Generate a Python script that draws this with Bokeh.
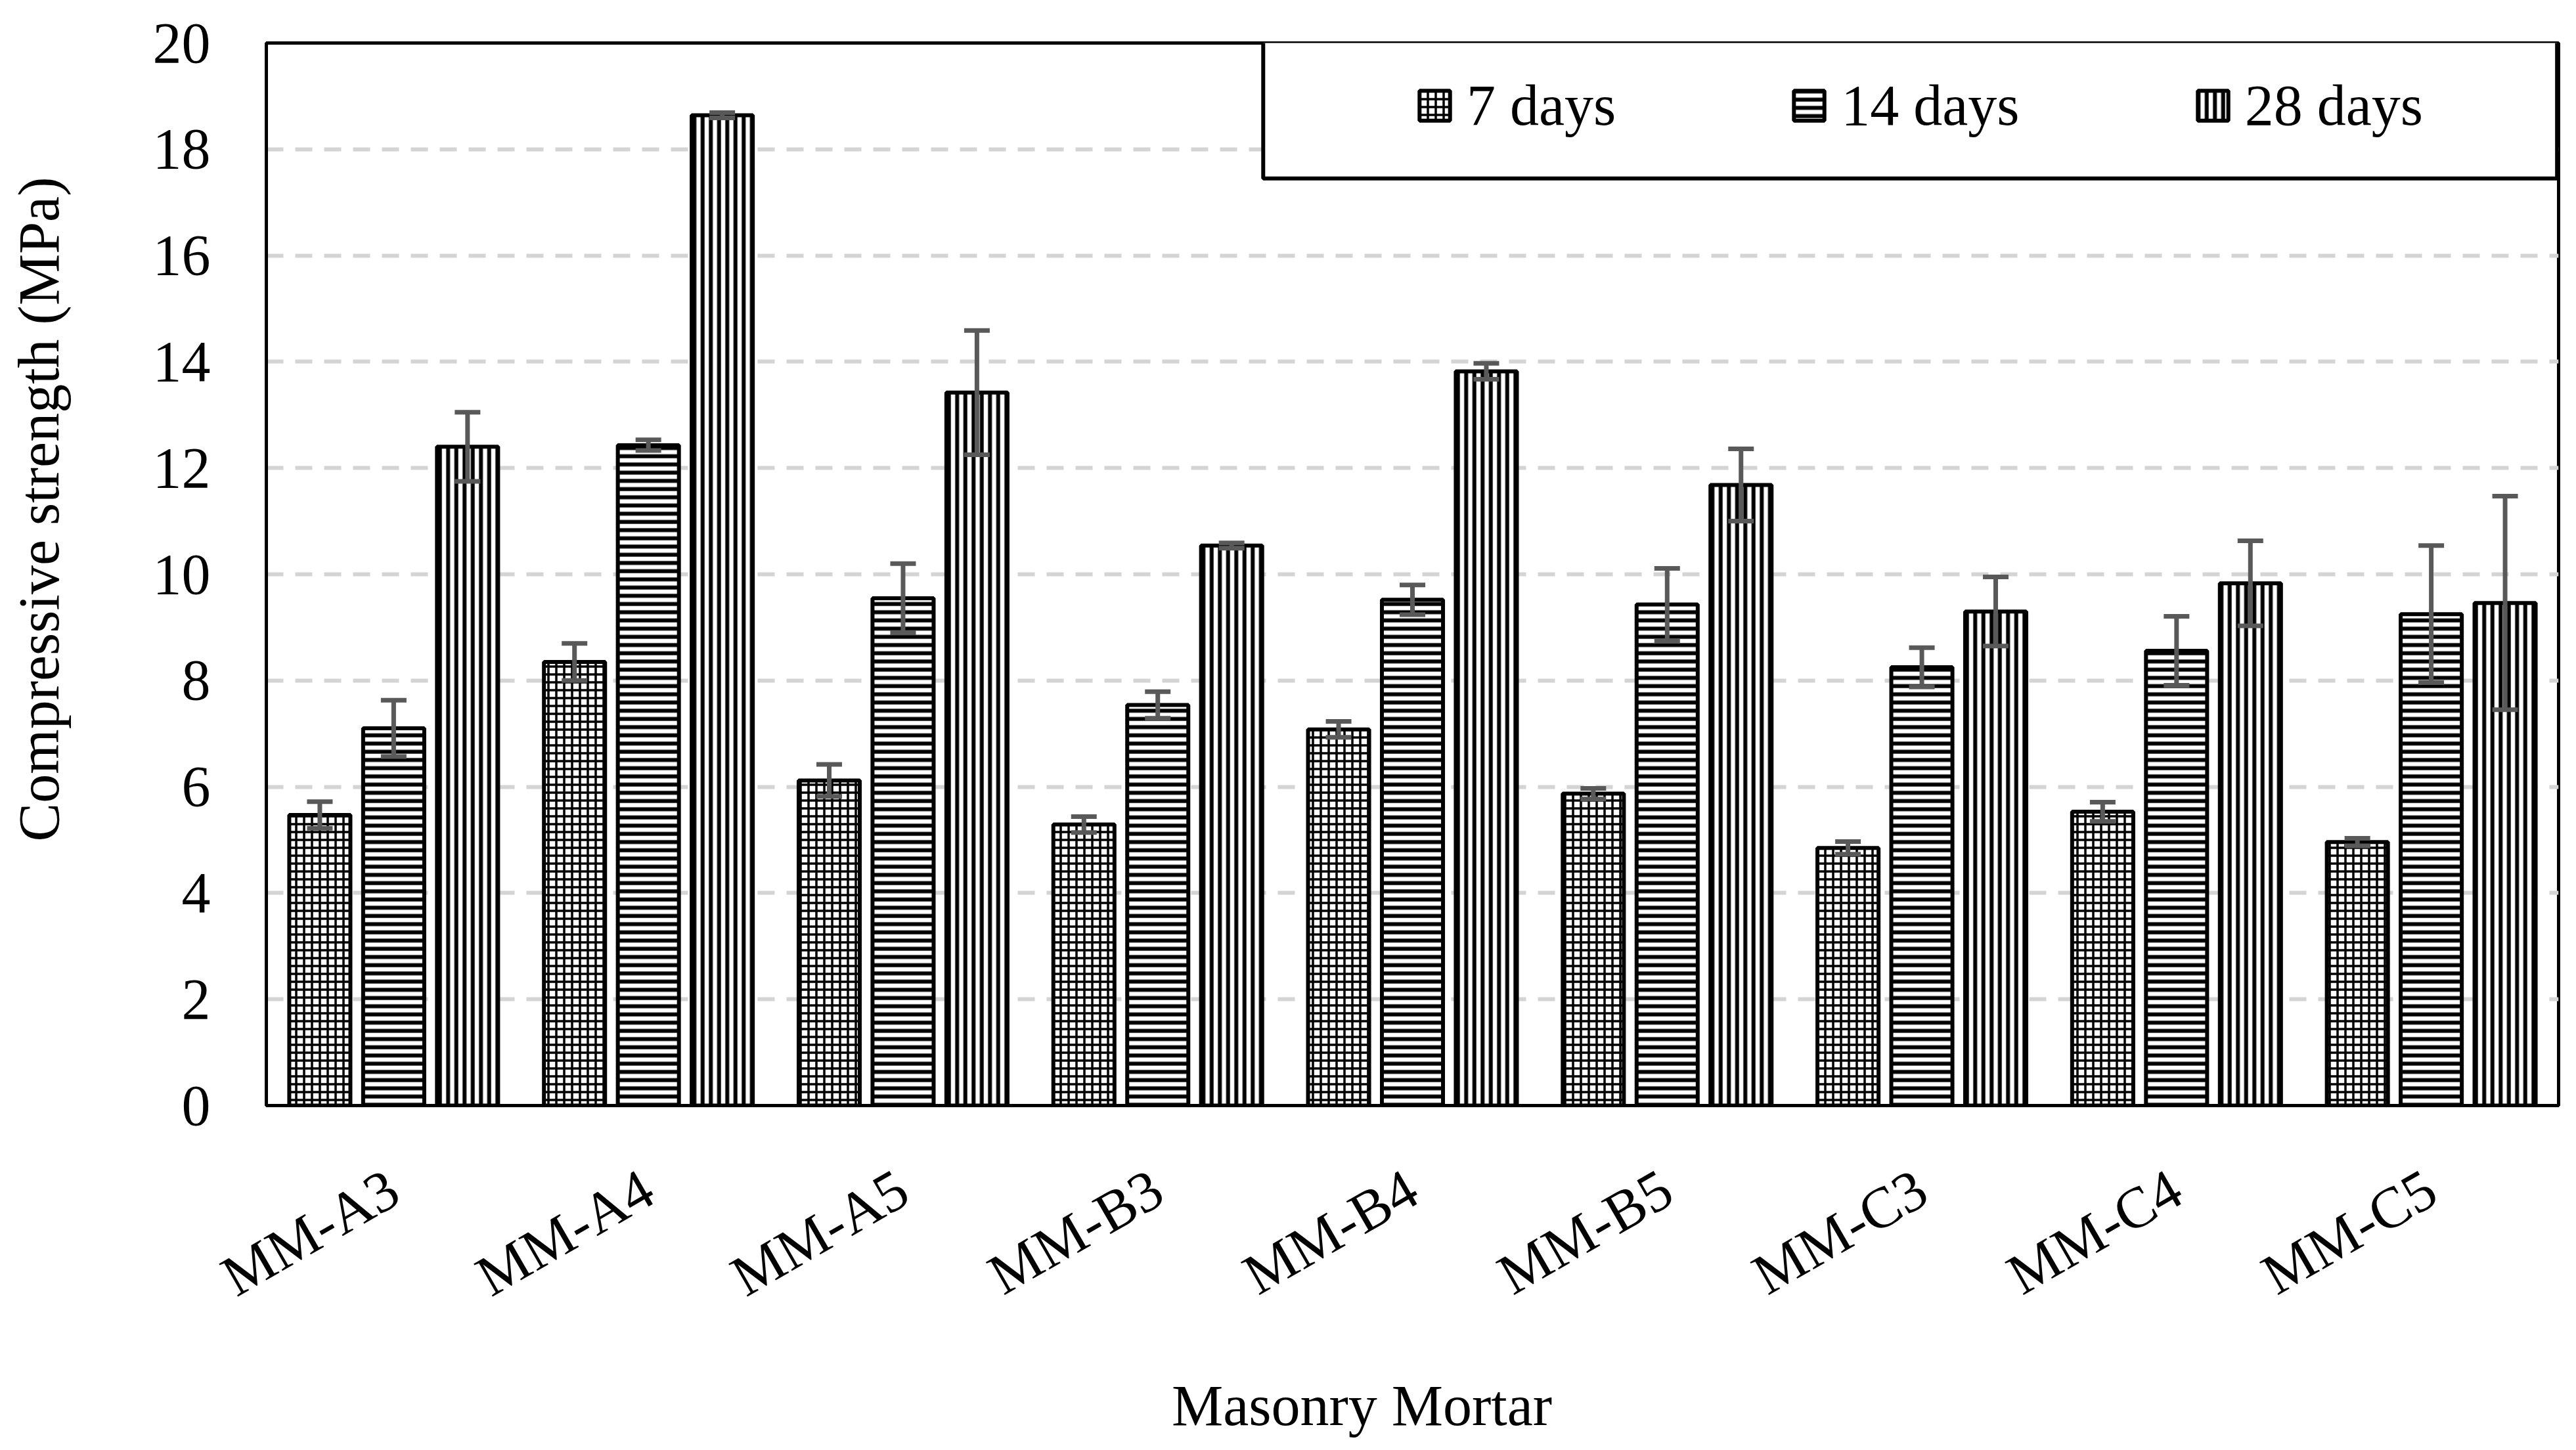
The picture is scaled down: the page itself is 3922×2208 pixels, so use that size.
import math
from bokeh.plotting import figure
from bokeh.models import (ColumnDataSource, FactorRange, Range1d, FixedTicker, Whisker,
                          TeeHead, Legend, LegendItem, BoxAnnotation)
from bokeh.transform import dodge
from bokeh.embed import file_html
from bokeh.resources import INLINE

# ---------------- data ----------------
categories = ["MM-A3", "MM-A4", "MM-A5", "MM-B3", "MM-B4", "MM-B5", "MM-C3", "MM-C4", "MM-C5"]
series_names = ["7 days", "14 days", "28 days"]
days7 = [5.47, 8.35, 6.12, 5.29, 7.08, 5.87, 4.85, 5.53, 4.96]
days7_err = [0.25, 0.35, 0.30, 0.15, 0.15, 0.10, 0.12, 0.18, 0.07]
days14 = [7.10, 12.43, 9.55, 7.54, 9.52, 9.43, 8.25, 8.56, 9.25]
days14_err = [0.53, 0.10, 0.65, 0.25, 0.28, 0.68, 0.37, 0.65, 1.29]
days28 = [12.40, 18.64, 13.42, 10.54, 13.82, 11.68, 9.30, 9.83, 9.46]
days28_err = [0.65, 0.05, 1.17, 0.05, 0.15, 0.68, 0.65, 0.80, 2.01]
y_ticks = [0, 2, 4, 6, 8, 10, 12, 14, 16, 18, 20]
x_title = "Masonry Mortar"
y_title = "Compressive strength (MPa)"

FONT = "Liberation Serif"
FS = "88px"
NBSP = "\u00a0"

data = dict(cat=categories)
for key, vals, errs in (("d7", days7, days7_err), ("d14", days14, days14_err), ("d28", days28, days28_err)):
    data[key] = vals
    data[key + "_up"] = [v + e for v, e in zip(vals, errs)]
    data[key + "_lo"] = [v - e for v, e in zip(vals, errs)]
src = ColumnDataSource(data)

W, H = 3922, 2208
p = figure(width=W, height=H, x_range=FactorRange(*categories), y_range=Range1d(0, 20),
           output_backend="svg", toolbar_location=None,
           min_border_left=405, min_border_right=27, min_border_top=65, min_border_bottom=525)
p.x_range.range_padding = 0

p.outline_line_color = "black"
p.outline_line_width = 5
p.background_fill_color = "white"
p.border_fill_color = "white"

# grid
p.xgrid.grid_line_color = None
p.ygrid.grid_line_color = "#d4d4d4"
p.ygrid.grid_line_width = 6
p.ygrid.grid_line_dash = "26 18"
p.yaxis.ticker = FixedTicker(ticks=y_ticks)

for ax in (p.xaxis[0], p.yaxis[0]):
    ax.axis_line_color = "black"
    ax.axis_line_width = 5
    ax.major_tick_line_color = None
    ax.minor_tick_line_color = None
    ax.major_tick_out = 0
    ax.major_tick_in = 0
    ax.major_label_text_font = FONT
    ax.major_label_text_font_size = FS
    ax.major_label_text_color = "black"
    ax.axis_label_text_font = FONT
    ax.axis_label_text_font_size = FS
    ax.axis_label_text_font_style = "normal"
    ax.axis_label_text_color = "black"

p.yaxis.major_label_standoff = 85
# leading no-break spaces nudge the title upward, as in the original layout
p.yaxis.axis_label = NBSP * 9 + y_title
p.yaxis.axis_label_standoff = 122

p.xaxis.major_label_orientation = math.pi / 6
p.xaxis.major_label_standoff = 120
# trailing no-break spaces nudge the title to the left, as in the original layout
p.xaxis.axis_label = x_title + NBSP * 7
p.xaxis.axis_label_standoff = 55

BAR_W = 0.24
OFF = 0.29
common = dict(source=src, width=BAR_W, fill_color="white", line_color="black", line_width=6,
              hatch_color="black")
r7 = p.vbar(x=dodge("cat", -OFF, range=p.x_range), top="d7", hatch_pattern="cross",
            hatch_scale=12, hatch_weight=3.5, **common)
r14 = p.vbar(x=dodge("cat", 0, range=p.x_range), top="d14", hatch_pattern="horizontal_line",
             hatch_scale=12.5, hatch_weight=6, **common)
r28 = p.vbar(x=dodge("cat", OFF, range=p.x_range), top="d28", hatch_pattern="vertical_line",
             hatch_scale=12.5, hatch_weight=6, **common)

ERR_C = "#595959"
for key, off in (("d7", -OFF), ("d14", 0), ("d28", OFF)):
    w = Whisker(base=dodge("cat", off, range=p.x_range), upper=key + "_up", lower=key + "_lo",
                source=src, line_color=ERR_C, line_width=7, level="annotation",
                upper_head=TeeHead(size=39, line_color=ERR_C, line_width=7),
                lower_head=TeeHead(size=39, line_color=ERR_C, line_width=7))
    p.add_layout(w)

# legend frame (white box with black border)
box = BoxAnnotation(left=3.914, right=8.994, top=20.1, bottom=17.45,
                    fill_color="white", fill_alpha=1.0, line_color="black", line_alpha=1.0,
                    line_width=6, level="annotation")
p.add_layout(box)

legend = Legend(items=[LegendItem(label=series_names[0], renderers=[r7]),
                       LegendItem(label=series_names[1], renderers=[r14]),
                       LegendItem(label=series_names[2], renderers=[r28])],
                orientation="horizontal", location=(1750, 1472),
                border_line_color=None, background_fill_alpha=0,
                glyph_width=58, glyph_height=57, label_standoff=20, spacing=265, padding=0,
                margin=0, label_text_font=FONT, label_text_font_size=FS,
                label_text_color="black")
p.add_layout(legend)

open("out.html", "w").write(file_html(p, INLINE))
